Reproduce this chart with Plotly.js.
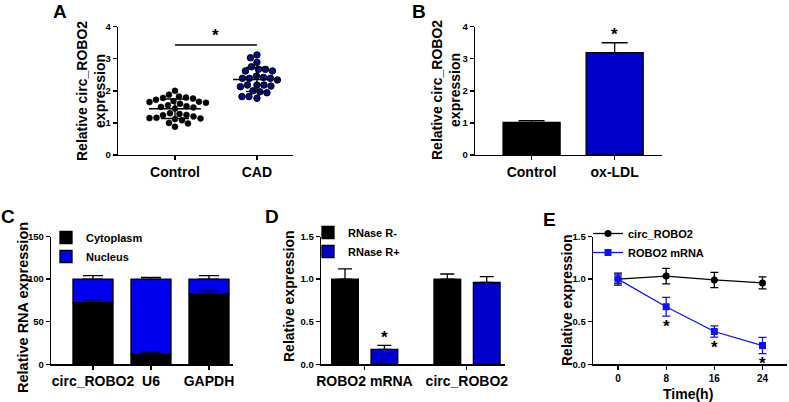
<!DOCTYPE html>
<html><head><meta charset="utf-8">
<script src="https://cdn.plot.ly/plotly-3.0.1.min.js"></script>
<style>html,body{margin:0;padding:0;background:#fff}#chart{width:789px;height:402px}</style>
</head><body><div id="chart"></div>
<script>
// ---------- DATA ----------
// Panel A
const catsA = ['Control', 'CAD'];
const controlVals = [2.0, 1.88, 1.82, 1.79, 1.78, 1.76, 1.72, 1.68, 1.66, 1.65, 1.63, 1.6, 1.55, 1.52, 1.5,
  1.48, 1.45, 1.3, 1.28, 1.25, 1.24, 1.2, 1.16, 1.15, 1.14, 1.12, 1.08, 1.0, 0.98, 0.88];
const cadVals = [3.12, 3.03, 2.89, 2.75, 2.67, 2.67, 2.62, 2.62, 2.46, 2.42, 2.39, 2.39, 2.39, 2.34, 2.18,
  2.18, 2.18, 2.15, 2.13, 2.0, 1.97, 1.94, 1.82, 1.82, 1.77];
const sigLineA = 3.43;
// Panel B
const catsB = ['Control', 'ox-LDL'];
const valsB = [1.02, 3.19];
const errB = [0.05, 0.31];
// Panel C
const catsC = ['circ_ROBO2', 'U6', 'GAPDH'];
const cytoVals = [72, 12, 83];
const cytoErr = [3.5, 2.2, 3];
const nucVals = [28, 88, 17];
const nucErr = [4, 2, 4];
// Panel D
const catsD = ['ROBO2 mRNA', 'circ_ROBO2'];
const rnaseMinus = [1.0, 1.0];
const rnaseMinusErr = [0.12, 0.06];
const rnasePlus = [0.176, 0.96];
const rnasePlusErr = [0.045, 0.07];
// Panel E
const timeE = [0, 8, 16, 24];
const circE = [1.0, 1.035, 0.99, 0.955];
const circErr = [0.07, 0.09, 0.09, 0.07];
const mrnaE = [1.0, 0.675, 0.385, 0.22];
const mrnaErr = [0.05, 0.11, 0.065, 0.095];
const sigE = [false, true, true, true];

// ---------- HELPERS ----------
const FONT = 'Liberation Sans, Arial, Helvetica, sans-serif';
const W = 789, H = 402;
const px = v => v / W, py = v => 1 - v / H;
const BLUE = '#0000cc', BLUE_C = '#0000f0';

function mean(a) { return a.reduce((s, v) => s + v, 0) / a.length; }
function sd(a) { const m = mean(a); return Math.sqrt(a.reduce((s, v) => s + (v - m) * (v - m), 0) / (a.length - 1)); }

// beeswarm layout in pixel space -> offsets in data units
function beeswarm(vals, pxPerX, pxPerY, D) {
  const placed = [], out = new Array(vals.length);
  const order = vals.map((v, i) => i).sort((a, b) => vals[b] - vals[a]);
  order.forEach((i, n) => {
    const y = vals[i] * pxPerY;
    const first = n % 2 === 0 ? 1 : -1;
    let found = 0;
    outer: for (let s = 0; s < 200; s += 0.5) {
      for (const sg of [first, -first]) {
        const cx = sg * s;
        if (placed.every(p => (cx - p.x) ** 2 + (y - p.y) ** 2 >= D * D)) { found = cx; break outer; }
      }
    }
    placed.push({ x: found, y });
    out[i] = found / pxPerX;
  });
  return out;
}

function yAx(domain, range, dtick, fmt, anchor) {
  return { domain, range, dtick, tickformat: fmt, anchor, showline: true, linecolor: '#000', linewidth: 1.3,
    ticks: 'outside', ticklen: 4, tickwidth: 1.3, tickcolor: '#000', showgrid: false, zeroline: false,
    tickfont: { family: FONT, size: 9.5, weight: 'bold', color: '#000' }, fixedrange: true };
}
function xAx(domain, range, tickvals, ticktext, anchor, size) {
  return { domain, range, tickvals, ticktext, anchor, showline: true, linecolor: '#000', linewidth: 1.3,
    ticks: 'outside', ticklen: 4, tickwidth: 1.3, tickcolor: '#000', showgrid: false, zeroline: false,
    tickfont: { family: FONT, size: size, weight: 'bold', color: '#000' }, fixedrange: true };
}
const idx = a => a.map((_, i) => i);

// ---------- GEOMETRY ----------
const topDom = [py(155), py(26.7)];
const botDom = [py(364.3), py(236.5)];
const xA = [0.305, 2.44];
const pxPerXA = (293 - 118) / (xA[1] - xA[0]);
const pxPerYA = (155 - 26.7) / 4;

const offC = beeswarm(controlVals, pxPerXA, pxPerYA, 6.8);
const offCAD = beeswarm(cadVals, pxPerXA, pxPerYA, 7.0);

const traces = [];
// A scatter
traces.push({ type: 'scatter', mode: 'markers', xaxis: 'x', yaxis: 'y', showlegend: false,
  x: controlVals.map((v, i) => 1 + offC[i]), y: controlVals,
  marker: { color: '#000', size: 6, line: { color: '#000', width: 0.5 } } });
traces.push({ type: 'scatter', mode: 'markers', xaxis: 'x', yaxis: 'y', showlegend: false,
  x: cadVals.map((v, i) => 2 + offCAD[i]), y: cadVals,
  marker: { color: '#08088a', size: 6.5, line: { color: '#000', width: 1 } } });
// mean +- SD
[[controlVals, 1, 0.317, 14], [cadVals, 2, 0.29, 11]].forEach(([vals, xc, half, cap]) => {
  traces.push({ type: 'scatter', mode: 'markers', xaxis: 'x', yaxis: 'y', showlegend: false,
    x: [xc], y: [mean(vals)], marker: { size: 1, color: 'rgba(0,0,0,0)' },
    error_y: { type: 'data', array: [sd(vals)], color: '#000', thickness: 1.4, width: cap },
    error_x: { type: 'data', array: [half], color: '#000', thickness: 1.5, width: 0 } });
});
// significance line A
traces.push({ type: 'scatter', mode: 'lines', xaxis: 'x', yaxis: 'y', showlegend: false,
  x: [1, 2], y: [sigLineA, sigLineA], line: { color: '#000', width: 1.3 } });

// B bars
traces.push({ type: 'bar', xaxis: 'x2', yaxis: 'y2', showlegend: false, x: idx(catsB), y: valsB, width: 0.687,
  marker: { color: ['#000', BLUE], line: { color: '#000', width: 1.3 } },
  error_y: { type: 'data', symmetric: false, array: errB, arrayminus: errB.map(() => 0), color: '#000', thickness: 1.3, width: 13 } });

// C stacked bars (nucleus drawn first so cytoplasm error caps stay visible)
traces.push({ type: 'bar', name: 'Nucleus', legend: 'legend', legendrank: 2, xaxis: 'x3', yaxis: 'y3',
  x: idx(catsC), y: nucVals, base: cytoVals, width: 0.69,
  marker: { color: BLUE_C, line: { color: '#000', width: 1.3 } },
  error_y: { type: 'data', symmetric: false, array: nucErr, arrayminus: nucErr.map(() => 0), color: '#000', thickness: 1.3, width: 10 } });
traces.push({ type: 'bar', name: 'Cytoplasm', legend: 'legend', legendrank: 1, xaxis: 'x3', yaxis: 'y3',
  x: idx(catsC), y: cytoVals, width: 0.69,
  marker: { color: '#000', line: { color: '#000', width: 1.3 } },
  error_y: { type: 'data', symmetric: false, array: cytoErr, arrayminus: cytoErr.map(() => 0), color: '#000', thickness: 1.3, width: 10 } });

// D grouped bars
traces.push({ type: 'bar', name: 'RNase R-', legend: 'legend2', xaxis: 'x4', yaxis: 'y4',
  x: idx(catsD), y: rnaseMinus, width: 0.261, offset: -0.321,
  marker: { color: '#000', line: { color: '#000', width: 1.3 } },
  error_y: { type: 'data', symmetric: false, array: rnaseMinusErr, arrayminus: rnaseMinusErr.map(() => 0), color: '#000', thickness: 1.3, width: 7 } });
traces.push({ type: 'bar', name: 'RNase R+', legend: 'legend2', xaxis: 'x4', yaxis: 'y4',
  x: idx(catsD), y: rnasePlus, width: 0.261, offset: 0.064,
  marker: { color: BLUE, line: { color: '#000', width: 1.3 } },
  error_y: { type: 'data', symmetric: false, array: rnasePlusErr, arrayminus: rnasePlusErr.map(() => 0), color: '#000', thickness: 1.3, width: 7 } });

// E lines
traces.push({ type: 'scatter', mode: 'lines+markers', name: 'circ_ROBO2', legend: 'legend3', xaxis: 'x5', yaxis: 'y5',
  x: timeE, y: circE, line: { color: '#000', width: 1.3 }, marker: { symbol: 'circle', size: 7, color: '#000' },
  error_y: { type: 'data', array: circErr, color: '#000', thickness: 1.3, width: 4 } });
traces.push({ type: 'scatter', mode: 'lines+markers', name: 'ROBO2 mRNA', legend: 'legend3', xaxis: 'x5', yaxis: 'y5',
  x: timeE, y: mrnaE, line: { color: '#1010ff', width: 1.3 }, marker: { symbol: 'square', size: 7, color: '#1010ff' },
  error_y: { type: 'data', array: mrnaErr, color: '#1010ff', thickness: 1.3, width: 4 } });

// ---------- ANNOTATIONS ----------
const ann = [];
const txt = (text, x, y, size, extra) => Object.assign({ text, xref: 'paper', yref: 'paper', x: px(x), y: py(y),
  xanchor: 'center', yanchor: 'middle', showarrow: false, font: { family: FONT, size, weight: 'bold', color: '#000' } }, extra || {});
// panel letters
ann.push(txt('A', 60, 11, 19), txt('B', 419, 11, 19), txt('C', 8, 216, 19), txt('D', 272, 216, 19), txt('E', 549, 219, 19));
// axis titles
ann.push(txt('Relative circ_ROBO2<br>expression', 91, 91, 14, { textangle: -90 }));
ann.push(txt('Relative circ_ROBO2<br>expression', 446, 90, 14, { textangle: -90 }));
ann.push(txt('Relative RNA expression', 23, 308, 14.5, { textangle: -90 }));
ann.push(txt('Relative expression', 289, 296, 14, { textangle: -90 }));
ann.push(txt('Relative expression', 567, 300, 14, { textangle: -90 }));
ann.push(txt('Time(h)', 688, 394, 14));
// stars
const star = (x, y, xref, yref, shift) => ({ text: '*', x, y, xref, yref, showarrow: false, yanchor: 'middle', yshift: shift,
  font: { family: FONT, size: 17, weight: 'bold', color: '#000' } });
ann.push(star(1.5, sigLineA, 'x', 'y', 9));
ann.push(star(1, valsB[1] + errB[1], 'x2', 'y2', 8));
ann.push(star(0.064 + 0.261 / 2, rnasePlus[0] + rnasePlusErr[0], 'x4', 'y4', 8));
timeE.forEach((t, i) => { if (sigE[i]) ann.push(star(t, mrnaE[i] - mrnaErr[i], 'x5', 'y5', -10)); });

const legBase = { bgcolor: 'rgba(0,0,0,0)', borderwidth: 0, xanchor: 'left', yanchor: 'top',
  font: { family: FONT, size: 11, weight: 'bold', color: '#000' }, itemclick: false, itemdoubleclick: false };

const layout = {
  width: W, height: H, margin: { l: 0, r: 0, t: 0, b: 0 }, paper_bgcolor: '#fff', plot_bgcolor: 'rgba(0,0,0,0)',
  barmode: 'overlay', font: { family: FONT, color: '#000' },
  xaxis: xAx([px(118), px(293)], xA, [1, 2], catsA, 'y', 14),
  yaxis: yAx(topDom, [0, 4], 1, 'd', 'x'),
  xaxis2: xAx([px(475), px(662)], [-0.681, 1.57], idx(catsB), catsB, 'y2', 14),
  yaxis2: yAx(topDom, [0, 4], 1, 'd', 'x2'),
  xaxis3: xAx([px(51), px(233)], [-0.724, 2.414], idx(catsC), catsC, 'y3', 14),
  yaxis3: yAx(botDom, [0, 150], 50, 'd', 'x3'),
  xaxis4: xAx([px(321), px(505)], [-0.425, 1.373], idx(catsD), catsD, 'y4', 14),
  yaxis4: yAx(botDom, [0, 1.5], 0.5, '.1f', 'x4'),
  xaxis5: xAx([px(593), px(787)], [-4.15, 28.07], timeE, timeE.map(String), 'y5', 10),
  yaxis5: yAx(botDom, [0, 1.5], 0.5, '.1f', 'x5'),
  legend: Object.assign({}, legBase, { x: px(46), y: py(223) }),
  legend2: Object.assign({}, legBase, { x: px(308), y: py(218) }),
  legend3: Object.assign({}, legBase, { x: px(588), y: py(219) }),
  annotations: ann,
  showlegend: true
};

Plotly.newPlot('chart', traces, layout, { displayModeBar: false, staticPlot: true });
</script></body></html>
